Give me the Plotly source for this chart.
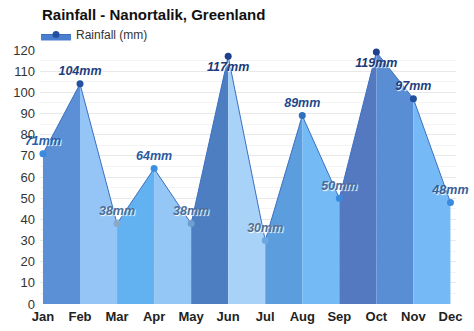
import plotly.graph_objects as go

months = ["Jan", "Feb", "Mar", "Apr", "May", "Jun", "Jul", "Aug", "Sep", "Oct", "Nov", "Dec"]
rainfall = [71, 104, 38, 64, 38, 117, 30, 89, 50, 119, 97, 48]
labels = [f"{v}mm" for v in rainfall]
segment_colors = ["#5b8fd6", "#95c5f7", "#62b2f2", "#94c6f6", "#4e7ec2", "#a8d2f8",
                  "#5b9ddd", "#74bbf5", "#5479c0", "#5a8ed4", "#75baf6"]
marker_colors = ["#3a8ae0", "#24509f", "#8aa8c8", "#3b8fe0", "#6f9fd0", "#1f3f8f",
                 "#6fa8e0", "#2f6fc0", "#3a8ae0", "#1f3f8f", "#1f4f9f", "#3a8ae0"]
label_colors = ["#2a5fa8", "#1e3f7c", "#4e6e98", "#2b5a9e", "#4e6e98", "#1b3a78",
                "#5a7090", "#1f4a8a", "#4a6a98", "#1b3a78", "#1f3f80", "#3a5e98"]
label_pos = ["top center"] * 12
label_pos[5] = "bottom center"
label_pos[9] = "bottom center"

idx = list(range(len(months)))
fig = go.Figure()

for i in range(len(months) - 1):
    fig.add_trace(go.Scatter(
        x=[idx[i], idx[i + 1]], y=[rainfall[i], rainfall[i + 1]],
        mode="none", fill="tozeroy", fillcolor=segment_colors[i],
        showlegend=False, hoverinfo="skip"))

fig.add_trace(go.Scatter(
    x=idx, y=rainfall, mode="lines+markers+text",
    line=dict(color="#3c70c0", width=1),
    marker=dict(size=7, color=marker_colors),
    text=labels, textposition=label_pos,
    textfont=dict(family="Liberation Sans, Arial, sans-serif", size=12.5,
                  color=label_colors, weight="bold", style="italic",
                  shadow="1px 1px 1px #ffffff"),
    cliponaxis=False, showlegend=False, name="Rainfall (mm)"))

# legend entry
fig.add_trace(go.Scatter(
    x=[None], y=[None], mode="lines+markers", fill="tozeroy",
    fillcolor="#4a7fd0", line=dict(color="#3c70c0", width=1),
    marker=dict(size=7, color="#24509f"), name="Rainfall (mm)", showlegend=True))

plot_h = 331 - 50 - 27
fig.update_layout(
    width=474, height=331,
    margin=dict(l=40, r=18, t=50, b=27, autoexpand=False),
    paper_bgcolor="white", plot_bgcolor="white",
    font=dict(family="Liberation Sans, Arial, sans-serif", color="#333333"),
    title=dict(text="<b>Rainfall - Nanortalik, Greenland</b>",
               x=42 / 474, xanchor="left",
               y=1 - 15 / 331, yanchor="middle",
               font=dict(size=15, color="#111111")),
    legend=dict(x=-4 / 416, xanchor="left",
                y=1 + 30 / plot_h, yanchor="top",
                orientation="h", font=dict(size=12, color="#333333"),
                bgcolor="rgba(0,0,0,0)"),
    xaxis=dict(range=[-0.08, 11.15], tickmode="array", tickvals=idx,
               ticktext=[f"<b>{m}</b>" for m in months],
               showgrid=False, zeroline=False, showline=False, ticks="",
               tickfont=dict(size=13, color="#222222"), ticklabelstandoff=3),
    yaxis=dict(range=[0, 120], dtick=10, tick0=0, showgrid=True,
               gridcolor="#e8e8e8", gridwidth=1, zeroline=False, ticks="",
               tickfont=dict(size=13, color="#333333"), ticklabelstandoff=4,
               minor=dict(dtick=5, showgrid=True, gridcolor="#f4f4f4")),
)

fig.write_html("out.html")
